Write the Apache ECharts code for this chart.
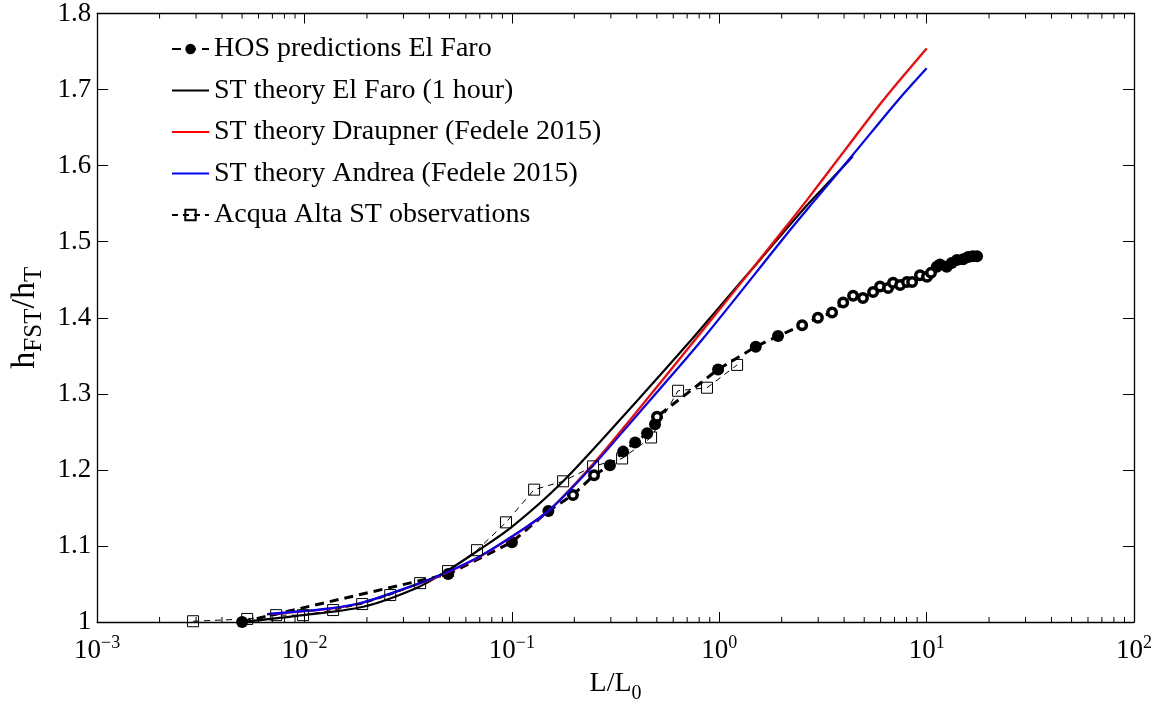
<!DOCTYPE html>
<html>
<head>
<meta charset="utf-8">
<script src="https://cdn.jsdelivr.net/npm/echarts@6/dist/echarts.min.js"></script>
<style>
  html, body { margin: 0; padding: 0; background: #fff; }
  #chart { width: 1167px; height: 709px; }
</style>
</head>
<body>
<div id="chart"></div>
<script>
// HOS predictions, El Faro
const hosX = [0.005, 0.0493, 0.100, 0.150, 0.197, 0.249, 0.297, 0.344, 0.393, 0.449, 0.490, 0.501,
  0.987, 1.50, 1.92, 2.51, 2.99, 3.50, 3.96, 4.42, 4.93, 5.52, 5.96, 6.52, 6.89, 7.45, 8.04, 8.51,
  9.29, 10.04, 10.5, 11.2, 11.6, 12.5, 13.2, 14.0, 15.0, 15.85, 16.7, 17.5];
const hosY = [1.000, 1.063, 1.105, 1.146, 1.167, 1.193, 1.206, 1.224, 1.236, 1.248, 1.260, 1.270,
  1.332, 1.362, 1.376, 1.390, 1.400, 1.407, 1.420, 1.429, 1.426, 1.434, 1.441, 1.439, 1.446, 1.443, 1.447, 1.447,
  1.456, 1.454, 1.459, 1.467, 1.470, 1.467, 1.472, 1.476, 1.477, 1.480, 1.481, 1.481];

// ST theory, El Faro (1 hour)
const stFaroX = [0.005, 0.0092, 0.0192, 0.0349, 0.0492, 0.0679, 0.100, 0.1766, 0.405, 0.723, 1.0, 1.57, 2.59, 3.5, 4.4];
const stFaroY = [1.000, 1.008, 1.020, 1.045, 1.068, 1.093, 1.125, 1.185, 1.292, 1.369, 1.414, 1.476, 1.545, 1.583, 1.612];

// ST theory, Draupner (Fedele 2015)
const draupnerX = [0.0066, 0.0133, 0.0192, 0.0349, 0.0487, 0.0703, 0.113, 0.153, 0.247, 0.372, 0.764, 2.03, 2.65, 4.0, 6.17, 10];
const draupnerY = [1.0100, 1.0175, 1.0255, 1.0495, 1.0652, 1.0862, 1.1215, 1.148, 1.208, 1.266, 1.371, 1.515, 1.555, 1.619, 1.686, 1.754];

// ST theory, Andrea (Fedele 2015)
const andreaX = [0.0066, 0.0133, 0.0192, 0.0349, 0.0487, 0.0703, 0.113, 0.153, 0.247, 0.384, 0.826, 2.19, 2.90, 4.4, 7.28, 10];
const andreaY = [1.0105, 1.018, 1.026, 1.0498, 1.0656, 1.0866, 1.122, 1.148, 1.206, 1.266, 1.371, 1.515, 1.555, 1.614, 1.686, 1.728];

// Acqua Alta ST observations
const acquaX = [0.0029, 0.00529, 0.0073, 0.00984, 0.01374, 0.01897, 0.0259, 0.0361, 0.0492, 0.0679,
  0.0937, 0.128, 0.1766, 0.2463, 0.340, 0.469, 0.633, 0.873, 1.219];
const acquaY = [1.001, 1.004, 1.009, 1.009, 1.0157, 1.0236, 1.0354, 1.0511, 1.0669, 1.0944,
  1.131, 1.174, 1.185, 1.2046, 1.215, 1.2426, 1.304, 1.308, 1.338];

const seriesNames = [
  'HOS predictions El Faro',
  'ST theory El Faro (1 hour)',
  'ST theory Draupner (Fedele 2015)',
  'ST theory Andrea (Fedele 2015)',
  'Acqua Alta ST observations'
];

const X_MIN = 0.001, X_MAX = 100, Y_MIN = 1, Y_MAX = 1.8;
const FONT = 'Liberation Serif, Times New Roman, serif';

// HOS markers drawn as rings rather than solid dots
const hollowHos = new Set([4, 5, 11, 15, 16, 17, 18, 19, 20, 21, 22, 23, 24, 25, 26, 27, 28, 29, 30]);

const pairs = (xs, ys) => xs.map((x, i) => [x, ys[i]]);

const hosData = hosX.map((x, i) => {
  const hollow = hollowHos.has(i);
  return {
    value: [x, hosY[i]],
    symbolSize: hollow ? 8.5 : 12,
    itemStyle: hollow
      ? { color: '#fff', borderColor: '#000', borderWidth: 3.5 }
      : { color: '#000', borderWidth: 0 }
  };
});

// minor tick positions of the log axis: 2..9 × 10^k
const minorTicks = [];
for (let k = -3; k <= 1; k++) {
  for (let m = 2; m <= 9; m++) minorTicks.push([m * Math.pow(10, k), Y_MIN]);
}

const sup = (e) => (e < 0 ? '\u2212' + (-e) : String(e));

const chart = echarts.init(document.getElementById('chart'), null, { renderer: 'canvas' });

const tickStyle = { color: '#000', width: 1 };
const axisLineStyle = { color: '#000', width: 1.3 };

// plain line keys for the theory curves (no marker in the key)
const lineOnlyKey = { itemStyle: { opacity: 0 } };

chart.setOption({
  animation: false,
  backgroundColor: '#fff',
  textStyle: { fontFamily: FONT, color: '#000' },
  grid: { left: 97, right: 33, top: 13, bottom: 86, containLabel: false },
  legend: {
    data: [
      { name: seriesNames[0] },
      Object.assign({ name: seriesNames[1] }, lineOnlyKey),
      Object.assign({ name: seriesNames[2] }, lineOnlyKey),
      Object.assign({ name: seriesNames[3] }, lineOnlyKey),
      { name: seriesNames[4] }
    ],
    orient: 'vertical',
    left: 171,
    top: 34,
    padding: 0,
    itemWidth: 37,
    itemHeight: 13,
    itemGap: 11.5,
    selectedMode: false,
    textStyle: { fontFamily: FONT, fontSize: 28, color: '#000', lineHeight: 30 }
  },
  xAxis: [
    {
      type: 'log', logBase: 10, min: X_MIN, max: X_MAX, position: 'bottom',
      axisLine: { show: true, onZero: false, lineStyle: axisLineStyle },
      axisTick: { show: true, inside: true, length: 10, lineStyle: tickStyle },
      splitLine: { show: false },
      minorTick: { show: false },
      axisLabel: {
        show: true, margin: 12, showMinLabel: true, showMaxLabel: true,
        formatter: (v) => '{b|10}{s|' + sup(Math.round(Math.log10(v))) + '}',
        rich: {
          b: { fontFamily: FONT, fontSize: 27, color: '#000' },
          s: { fontFamily: FONT, fontSize: 18, color: '#000', padding: [0, 0, 16, 0] }
        }
      },
      name: '{a|L/L}{s|0}',
      nameLocation: 'middle',
      nameGap: 42,
      nameTextStyle: {
        rich: {
          a: { fontFamily: FONT, fontSize: 28, color: '#000' },
          s: { fontFamily: FONT, fontSize: 20, color: '#000', padding: [20, 0, 0, 0] }
        }
      }
    },
    {
      type: 'log', logBase: 10, min: X_MIN, max: X_MAX, position: 'top',
      axisLine: { show: true, onZero: false, lineStyle: axisLineStyle },
      axisTick: { show: true, inside: true, length: 10, lineStyle: tickStyle },
      axisLabel: { show: false },
      splitLine: { show: false }
    }
  ],
  yAxis: [
    {
      type: 'value', min: Y_MIN, max: Y_MAX, interval: 0.1, position: 'left',
      axisLine: { show: true, onZero: false, lineStyle: axisLineStyle },
      axisTick: { show: true, inside: true, length: 11, lineStyle: tickStyle },
      splitLine: { show: false },
      axisLabel: {
        margin: 6, fontFamily: FONT, fontSize: 27, color: '#000',
        formatter: (v) => (Math.abs(v - 1) < 1e-9 ? '1' : v.toFixed(1))
      },
      name: '{a|h}{s|FST}{a|/h}{s|T}',
      nameLocation: 'middle',
      nameRotate: 90,
      nameGap: 50,
      nameTextStyle: {
        rich: {
          a: { fontFamily: FONT, fontSize: 34, color: '#000' },
          s: { fontFamily: FONT, fontSize: 25, color: '#000', padding: [18, 0, 0, 0] }
        }
      }
    },
    {
      type: 'value', min: Y_MIN, max: Y_MAX, interval: 0.1, position: 'right',
      axisLine: { show: true, onZero: false, lineStyle: axisLineStyle },
      axisTick: { show: true, inside: true, length: 11, lineStyle: tickStyle },
      axisLabel: { show: false },
      splitLine: { show: false }
    }
  ],
  series: [
    {
      name: seriesNames[0], type: 'line', data: hosData, z: 3,
      symbol: 'circle', symbolSize: 12, showSymbol: true,
      itemStyle: { color: '#000' },
      lineStyle: { color: '#000', width: 3, type: [9, 6] }
    },
    {
      name: seriesNames[1], type: 'line', data: pairs(stFaroX, stFaroY), z: 4,
      symbol: 'none', smooth: 0.3,
      itemStyle: { color: '#000' },
      lineStyle: { color: '#000', width: 2.2 }
    },
    {
      name: seriesNames[2], type: 'line', data: pairs(draupnerX, draupnerY), z: 5,
      symbol: 'none', smooth: 0.3,
      itemStyle: { color: '#ff0000' },
      lineStyle: { color: '#ff0000', width: 2.2 }
    },
    {
      name: seriesNames[3], type: 'line', data: pairs(andreaX, andreaY), z: 6,
      symbol: 'none', smooth: 0.3,
      itemStyle: { color: '#0000ff' },
      lineStyle: { color: '#0000ff', width: 2.2 }
    },
    {
      name: seriesNames[4], type: 'line', data: pairs(acquaX, acquaY), z: 7,
      symbol: 'rect', symbolSize: 11, showSymbol: true,
      itemStyle: { color: 'transparent', borderColor: '#000', borderWidth: 1 },
      lineStyle: { color: '#000', width: 1, type: [6, 5] }
    },
    {
      // minor ticks of the log axis, bottom and top edges
      type: 'custom', silent: true, z: 2,
      data: minorTicks,
      renderItem: (params, api) => {
        const x = api.value(0);
        const b = api.coord([x, Y_MIN]);
        const t = api.coord([x, Y_MAX]);
        const style = { stroke: '#000', lineWidth: 1 };
        return {
          type: 'group',
          children: [
            { type: 'line', shape: { x1: b[0], y1: b[1], x2: b[0], y2: b[1] - 5 }, style },
            { type: 'line', shape: { x1: t[0], y1: t[1], x2: t[0], y2: t[1] + 5 }, style }
          ]
        };
      }
    }
  ]
});
</script>
</body>
</html>
